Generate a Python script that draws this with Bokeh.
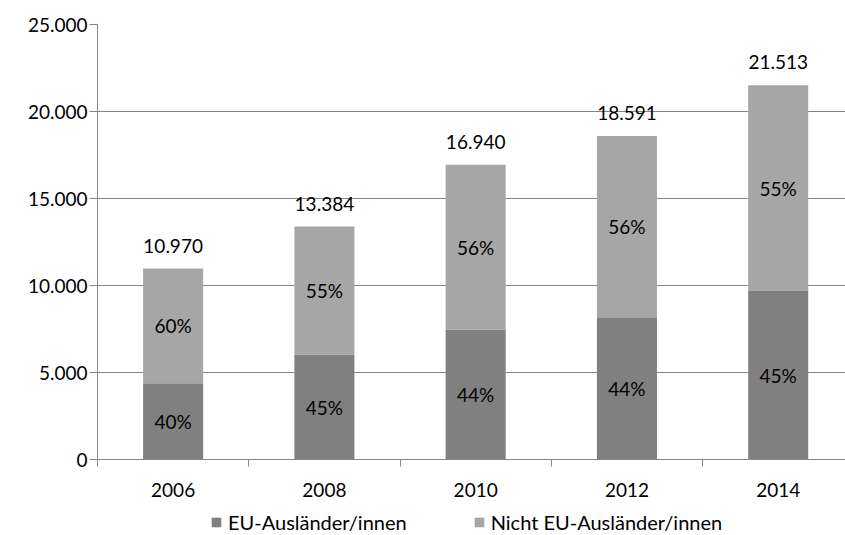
from bokeh.plotting import figure
from bokeh.layouts import column
from bokeh.models import ColumnDataSource, FixedTicker, Legend, LegendItem, Range1d
from bokeh.embed import file_html
from bokeh.resources import INLINE
from bokeh.core.properties import value

years = ["2006", "2008", "2010", "2012", "2014"]
totals = [10970, 13384, 16940, 18591, 21513]
eu = [4388, 6023, 7454, 8180, 9681]
non_eu = [t - e for t, e in zip(totals, eu)]
y_ticks = [0, 5000, 10000, 15000, 20000, 25000]
y_tick_labels = ["0", "5.000", "10.000", "15.000", "20.000", "25.000"]
series_names = ["EU-Ausländer/innen", "Nicht EU-Ausländer/innen"]
colors = ["#808080", "#a6a6a6"]

FONT = "Lato"
FS = "19px"
W = 845
xs = list(range(len(years)))

src = ColumnDataSource(dict(
    x=xs,
    eu=eu,
    non_eu=non_eu,
    total=totals,
    eu_mid=[e / 2 for e in eu],
    non_mid=[e + n / 2 for e, n in zip(eu, non_eu)],
    eu_pct=[f"{round(100 * e / t)}%" for e, t in zip(eu, totals)],
    non_pct=[f"{round(100 * n / t)}%" for n, t in zip(non_eu, totals)],
    total_lbl=[f"{t:,}".replace(",", ".") for t in totals],
))

p = figure(width=W, height=500, output_backend="svg", toolbar_location=None,
           x_range=Range1d(-0.5, 4.445), y_range=Range1d(0, 25000),
           min_border_left=97, min_border_right=0, min_border_top=24,
           min_border_bottom=41, outline_line_color=None)

p.vbar(x="x", width=0.397, bottom=0, top="eu", source=src,
       fill_color=colors[0], line_color=None)
p.vbar(x="x", width=0.397, bottom="eu", top="total", source=src,
       fill_color=colors[1], line_color=None)

p.text(x="x", y="eu_mid", text="eu_pct", source=src, text_align="center",
       text_baseline="middle", text_font=value(FONT), text_font_size=FS,
       text_color="#000000")
p.text(x="x", y="non_mid", text="non_pct", source=src, text_align="center",
       text_baseline="middle", text_font=value(FONT), text_font_size=FS,
       text_color="#000000")
p.text(x="x", y="total", text="total_lbl", source=src, text_align="center",
       text_baseline="bottom", y_offset=-16, text_font=value(FONT),
       text_font_size=FS, text_color="#000000")

# y axis
p.yaxis.ticker = FixedTicker(ticks=y_ticks)
p.yaxis.major_label_overrides = {t: l for t, l in zip(y_ticks, y_tick_labels)}
p.yaxis.major_tick_out = 8
p.yaxis.major_tick_in = 0
p.yaxis.minor_tick_line_color = None
p.yaxis.major_label_standoff = 2
p.yaxis.axis_line_color = "#868686"
p.yaxis.major_tick_line_color = "#868686"
p.yaxis.major_label_text_font = FONT
p.yaxis.major_label_text_font_size = FS
p.yaxis.major_label_text_color = "#000000"

# x axis
p.xaxis.ticker = FixedTicker(ticks=xs, minor_ticks=[-0.5, 0.5, 1.5, 2.5, 3.5, 4.5])
p.xaxis.major_label_overrides = {i: y for i, y in zip(xs, years)}
p.xaxis.major_tick_line_color = None
p.xaxis.major_tick_out = 0
p.xaxis.minor_tick_out = 7
p.xaxis.minor_tick_in = 0
p.xaxis.minor_tick_line_color = "#868686"
p.xaxis.axis_line_color = "#868686"
p.xaxis.major_label_standoff = 16
p.xaxis.major_label_text_font = FONT
p.xaxis.major_label_text_font_size = FS
p.xaxis.major_label_text_color = "#000000"

p.xgrid.grid_line_color = None
p.ygrid.grid_line_color = "#868686"
p.ygrid.ticker = FixedTicker(ticks=y_ticks)

# legend figure (its frame is aligned with the main plot's frame)
lf = figure(width=W, height=35, output_backend="svg", toolbar_location=None,
            x_range=Range1d(0, 1), y_range=Range1d(0, 1),
            min_border_left=0, min_border_right=0, min_border_top=0,
            min_border_bottom=0, outline_line_color=None)
lf.axis.visible = False
lf.grid.visible = False
dummy = ColumnDataSource(dict(x=[-10.0], top=[0.0]))
items = []
for name, c in zip(series_names, colors):
    r = lf.vbar(x="x", top="top", width=0.1, source=dummy, fill_color=c, line_color=None)
    items.append(LegendItem(label=name, renderers=[r]))
legend = Legend(items=items, orientation="horizontal", location=(113, 1),
                label_text_font=FONT, label_text_font_size="20px",
                label_text_color="#000000", glyph_width=12, glyph_height=12,
                spacing=66, label_standoff=6, border_line_color=None,
                background_fill_alpha=0, padding=0, margin=0)
lf.add_layout(legend, "center")

layout = column(p, lf, spacing=0)
open("out.html", "w").write(file_html(layout, INLINE))
